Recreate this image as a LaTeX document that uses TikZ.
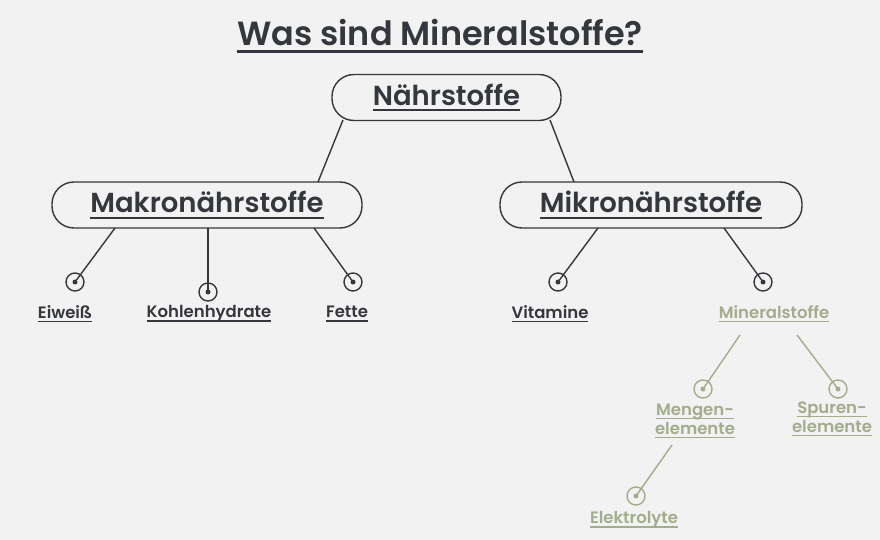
\documentclass[tikz,border=0pt]{standalone}
\usepackage{fontspec}
\setmainfont{Poppins}[UprightFont=* Medium, BoldFont=* SemiBold]
\definecolor{bg}{HTML}{F2F2F2}
\definecolor{ink}{HTML}{34373C}
\definecolor{sage}{HTML}{A4AC8E}
\newcommand\ulx[1]{\setbox0\hbox{#1}\rlap{\raisebox{-0.22em}{\rule{\wd0}{0.075em}}}\box0}
\tikzset{
  pill/.style={draw=ink, line width=1.4pt, rounded corners=22pt, minimum height=46pt, text=ink, font=\bfseries\fontsize{27.5}{31}\selectfont, inner sep=0pt},
  leaf/.style={text=ink, font=\bfseries\fontsize{16.5}{19}\selectfont, inner sep=0pt, align=center},
  gleaf/.style={leaf, text=sage},
  conn/.style={draw=ink, line width=1.4pt},
  gconn/.style={draw=sage, line width=1.4pt},
  ring/.style={circle, draw=ink, line width=1.4pt, minimum size=18pt, inner sep=0pt, path picture={\fill[ink] (path picture bounding box.center) circle (2.5pt);}},
  gring/.style={ring, draw=sage, path picture={\fill[sage] (path picture bounding box.center) circle (2.5pt);}},
}
\begin{document}
\begin{tikzpicture}[x=1pt,y=-1pt]
\fill[bg] (0,0) rectangle (880,540);
\useasboundingbox (0,0) rectangle (880,540);
\node[text=ink, font=\bfseries\fontsize{33.5}{37}\selectfont, inner sep=0pt] (title) at (440,36) {\ulx{Was sind Mineralstoffe?}};
\node[pill, minimum width=229pt] (n) at (446.5,97.5) {\ulx{Nährstoffe}};
\node[pill, minimum width=310pt] (ma) at (207,205) {\ulx{Makronährstoffe}};
\node[pill, minimum width=302pt] (mi) at (651,205) {\ulx{Mikronährstoffe}};
\coordinate (n1) at (343,120); \coordinate (ma0) at (318,182);
\coordinate (n2) at (550,120); \coordinate (mi0) at (574,182);
\draw[conn] (n1) -- (ma0);
\draw[conn] (n2) -- (mi0);
% Makro children
\node[ring] (r1) at (75,282) {};
\node[ring] (r2) at (208,292) {};
\node[ring] (r3) at (353,282) {};
\coordinate (ma1) at (115,228); \coordinate (ma2) at (208,228); \coordinate (ma3) at (314,228);
\draw[conn] (ma1) -- (r1.center);
\draw[conn] (ma2) -- (r2.center);
\draw[conn] (ma3) -- (r3.center);
\node[leaf] (l1) at (65,314) {\ulx{Eiweiß}};
\node[leaf] (l2) at (209,314) {\ulx{Kohlenhydrate}};
\node[leaf] (l3) at (347,314) {\ulx{Fette}};
% Mikro children
\node[ring] (r4) at (558,282) {};
\node[ring] (r5) at (763,282) {};
\coordinate (mi1) at (598,228); \coordinate (mi2) at (724,228);
\draw[conn] (mi1) -- (r4.center);
\draw[conn] (mi2) -- (r5.center);
\node[leaf] (l4) at (550,314) {\ulx{Vitamine}};
\node[gleaf] (l5) at (774,314) {\ulx{Mineralstoffe}};
% Mineralstoffe children
\coordinate (m1) at (740,335); \coordinate (m2) at (797,335);
\node[gring] (r6) at (703,389) {};
\node[gring] (r7) at (838,389) {};
\draw[gconn] (m1) -- (r6.center);
\draw[gconn] (m2) -- (r7.center);
\node[gleaf] (l6) at (695,421) {\ulx{Mengen-}\\[0pt]\ulx{elemente}};
\node[gleaf] (l7) at (832,419) {\ulx{Spuren-}\\[0pt]\ulx{elemente}};
\coordinate (m3) at (672,445);
\node[gring] (r8) at (636,496) {};
\draw[gconn] (m3) -- (r8.center);
\node[gleaf] (l8) at (634,520) {\ulx{Elektrolyte}};
\end{tikzpicture}
\end{document}
